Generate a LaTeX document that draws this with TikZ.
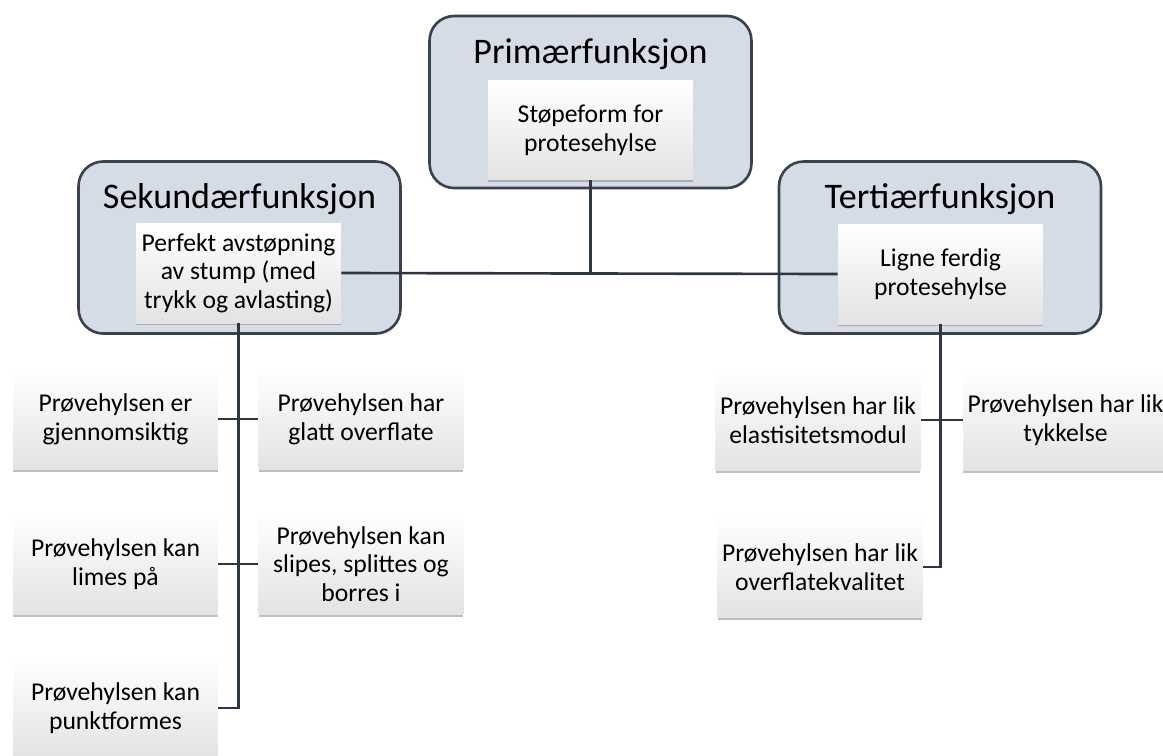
\documentclass[tikz,border=0pt]{standalone}
\usepackage{fontspec}
\setmainfont{Carlito}
\usepackage{xcolor}
\usepackage{tikz}
\usetikzlibrary{calc}
\usetikzlibrary{shadows}
\usetikzlibrary{positioning}
\definecolor{grpfill}{RGB}{214,220,230}
\definecolor{grpline}{RGB}{58,66,80}
\definecolor{conline}{RGB}{46,54,66}

\begin{document}
\begin{tikzpicture}[x=0.02cm,y=-0.02cm,
	grp/.style={draw=grpline,line width=1.5pt,fill=grpfill,rounded corners=14pt,minimum width=6.44cm,minimum height=3.44cm},
	grptitle/.style={inner sep=0pt,font=\fontsize{20.5}{23}\selectfont},
	card/.style={shade,top color=white,middle color=white,bottom color=black!11,
		drop shadow={shadow xshift=0pt,shadow yshift=-1.3pt,opacity=.5},
		minimum width=4.1cm,minimum height=2.02cm,inner sep=0pt,align=center,
		font=\fontsize{14.6}{16.3}\selectfont},
	con/.style={draw=conline,line width=1.5pt}]
	\useasboundingbox (0,0) rectangle (1163,755);
	\clip (0,0) rectangle (1163,755);
	% the three groups
	\node[grp] (po) at (590.5,102) {};
	\node[grp] (so) at (239.5,247.5) {};
	\node[grp] (to) at (940,247.5) {};
	\node[grptitle] (pt) at (590.5,54) {Primærfunksjon};
	\node[grptitle] (st) at (239.5,199) {Sekundærfunksjon};
	\node[grptitle] (tt) at (940,199) {Tertiærfunksjon};
	\node[card,minimum height=2cm] (pi) at (590.5,130) {Støpeform for\\protesehylse};
	\node[card,minimum height=2cm] (si) at (238.5,273) {Perfekt avstøpning\\av stump (med\\trykk og avlasting)};
	\node[card,minimum height=2cm] (ti) at (940.5,274) {Ligne ferdig\\protesehylse};
	% the lower cards
	\node[card] (s1) at (115.5,419) {Prøvehylsen er\\gjennomsiktig};
	\node[card] (s2) at (361,419) {Prøvehylsen har\\glatt overflate};
	\node[card] (s3) at (115.5,564) {Prøvehylsen kan\\limes på};
	\node[card] (s4) at (361,564) {Prøvehylsen kan\\slipes, splittes og\\borres i};
	\node[card] (s5) at (115.5,708) {Prøvehylsen kan\\punktformes};
	\node[card] (t1) at (818,420) {Prøvehylsen har lik\\elastisitetsmodul};
	\node[card] (t2) at (1065.5,420) {Prøvehylsen har lik\\tykkelse};
	\node[card] (t3) at (820,567) {Prøvehylsen har lik\\overflatekvalitet};
	% connectors
	\draw[con] (si.east) -- (ti.west);
	\draw[con] (pi.south) -- (pi.south |- si.east);
	\draw[con] (si.south) -- (si.south |- s5.east) -- (s5.east);
	\draw[con] (s1.east) -- (s2.west);
	\draw[con] (s3.east) -- (s4.west);
	\draw[con] (ti.south) -- (ti.south |- t3.east) -- (t3.east);
	\draw[con] (t1.east) -- (t2.west);
\end{tikzpicture}
\end{document}
